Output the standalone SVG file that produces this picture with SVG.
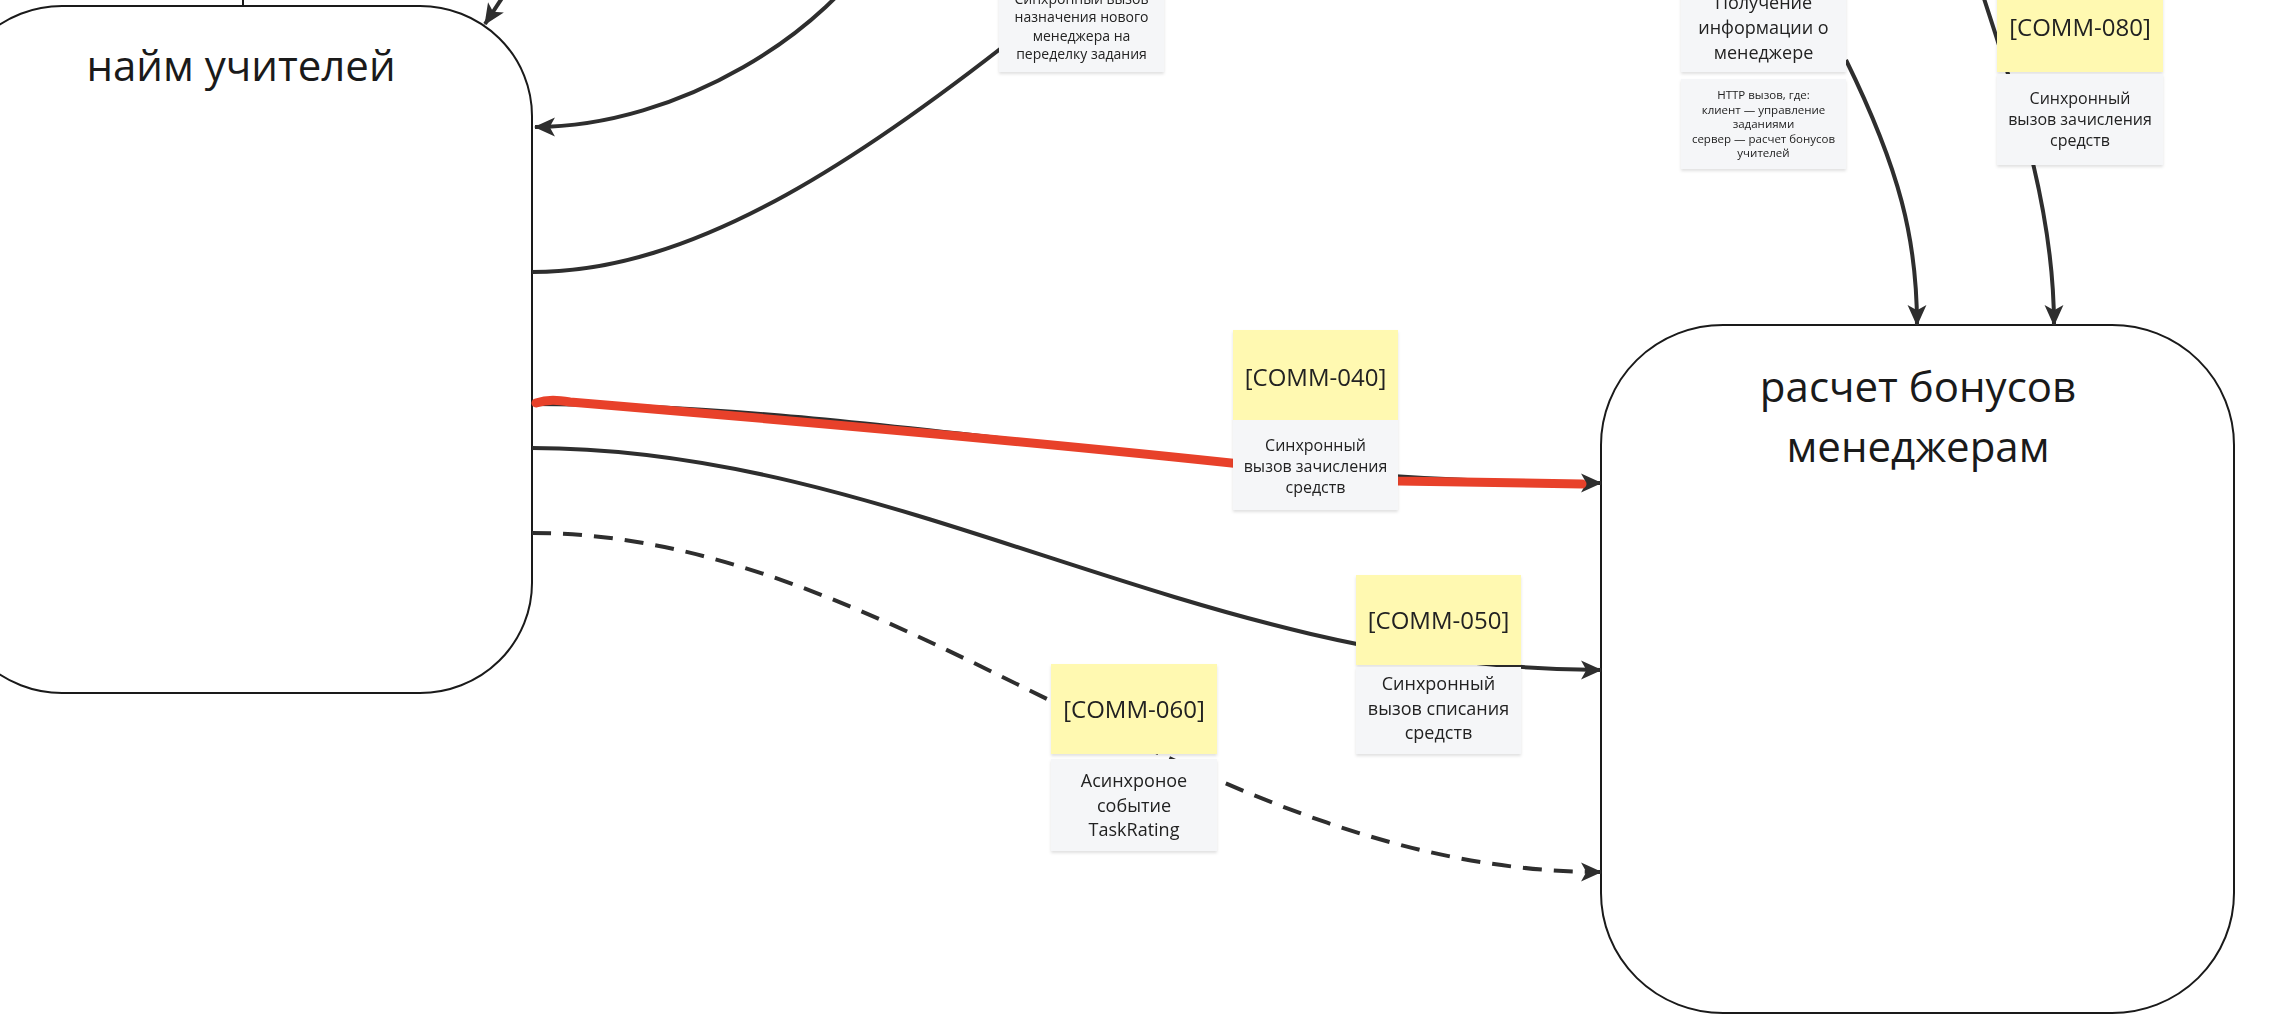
<svg xmlns="http://www.w3.org/2000/svg" width="2286" height="1030" viewBox="0 0 2286 1030">
<style>
.node{fill:#ffffff;stroke:#1a1a1a;stroke-width:2}
.ntext{font-family:"Open Sans","Noto Sans","DejaVu Sans",sans-serif;font-size:42px;fill:#1a1a1a;text-anchor:middle}
.conn{fill:none;stroke:#2e2e2e;stroke-width:4}
.dash{stroke-dasharray:19 12}
.red{fill:none;stroke:#e8412a;stroke-width:9;stroke-linecap:round;stroke-linejoin:round}
.gray{fill:#f5f6f8}
.yellow{fill:#fff9b1}
.st{font-family:"Open Sans","Noto Sans","DejaVu Sans",sans-serif;fill:#222222;text-anchor:middle}
.code{font-size:24px}
</style>
<defs>
<marker id="arr" markerUnits="userSpaceOnUse" markerWidth="21" markerHeight="21" viewBox="0 0 20 20" refX="19" refY="10" orient="auto">
<path d="M0,1 L20,10 L0,19 L5,10 z" fill="#2e2e2e"/>
</marker>
<filter id="sh" x="-10%" y="-10%" width="120%" height="130%">
<feDropShadow dx="0" dy="2" stdDeviation="1.5" flood-color="#000000" flood-opacity="0.12"/>
</filter>
</defs>
<rect x="0" y="0" width="2286" height="1030" fill="#ffffff"/>

<g id="node-hiring">
<rect class="node" x="-50" y="6" width="582" height="687" rx="112" ry="110"/>
<text class="ntext" x="241" y="81">найм учителей</text>
</g>

<g id="node-bonus">
<rect class="node" x="1601" y="325" width="633" height="688" rx="122" ry="120"/>
<text class="ntext" x="1918" y="402">расчет бонусов</text>
<text class="ntext" x="1918" y="462">менеджерам</text>
</g>

<g id="connectors">
<line x1="243" y1="-2" x2="243" y2="6" stroke="#1a1a1a" stroke-width="2"/>
<path class="conn" d="M506,-8 L485,24" marker-end="url(#arr)"/>
<path class="conn" d="M880,-60 C830,30 680,127 535,127" marker-end="url(#arr)"/>
<path class="conn" d="M532,272 C690,272 860,170 1110,-40"/>
<path class="conn" d="M532,404 C880,404 1200,483 1601,483" marker-end="url(#arr)"/>
<path class="red" d="M536,403 C548,399 558,400 570,402 Q1000,438 1250,465 L1398,481 L1582,484"/>
<path class="conn" d="M532,448 C900,448 1200,670 1601,670" marker-end="url(#arr)"/>
<path class="conn dash" d="M532,533 C900,533 1200,872 1601,872" marker-end="url(#arr)"/>
<path class="conn" d="M1846,60 C1900,170 1917,240 1917,325" marker-end="url(#arr)"/>
<path class="conn" d="M1978,-20 C2010,80 2054,200 2054,325" marker-end="url(#arr)"/>
</g>

<g id="label-reassign" filter="url(#sh)">
<rect class="gray" x="999" y="-18" width="165" height="90"/>
<text class="st" font-size="14" x="1081.5" y="3.5">Синхронный вызов</text>
<text class="st" font-size="14" x="1081.5" y="22">назначения нового</text>
<text class="st" font-size="14" x="1081.5" y="40.5">менеджера на</text>
<text class="st" font-size="14" x="1081.5" y="59">переделку задания</text>
</g>

<g id="label-getinfo" filter="url(#sh)">
<rect class="gray" x="1681" y="-18" width="165" height="90"/>
<text class="st" font-size="18" x="1763.5" y="8.5">Получение</text>
<text class="st" font-size="18" x="1763.5" y="33.5">информации о</text>
<text class="st" font-size="18" x="1763.5" y="58.5">менеджере</text>
</g>

<g id="label-http" filter="url(#sh)">
<rect class="gray" x="1681" y="79" width="165" height="90"/>
<text class="st" font-size="11.5" x="1763.5" y="99">HTTP вызов, где:</text>
<text class="st" font-size="11.5" x="1763.5" y="113.5">клиент — управление</text>
<text class="st" font-size="11.5" x="1763.5" y="128">заданиями</text>
<text class="st" font-size="11.5" x="1763.5" y="142.5">сервер — расчет бонусов</text>
<text class="st" font-size="11.5" x="1763.5" y="157">учителей</text>
</g>

<g id="label-comm080" filter="url(#sh)">
<rect class="yellow" x="1997" y="-18" width="166" height="90"/>
<text class="st code" x="2080" y="36">[COMM-080]</text>
<rect class="gray" x="1997" y="74" width="166" height="91"/>
<text class="st" font-size="16" x="2080" y="104">Синхронный</text>
<text class="st" font-size="16" x="2080" y="125">вызов зачисления</text>
<text class="st" font-size="16" x="2080" y="146">средств</text>
</g>

<g id="label-comm040" filter="url(#sh)">
<rect class="yellow" x="1233" y="330" width="165" height="90"/>
<text class="st code" x="1315.5" y="386">[COMM-040]</text>
<rect class="gray" x="1233" y="420" width="165" height="90"/>
<text class="st" font-size="16" x="1315.5" y="451">Синхронный</text>
<text class="st" font-size="16" x="1315.5" y="472">вызов зачисления</text>
<text class="st" font-size="16" x="1315.5" y="493">средств</text>
</g>

<g id="label-comm050" filter="url(#sh)">
<rect class="yellow" x="1356" y="575" width="165" height="90"/>
<text class="st code" x="1438.5" y="629">[COMM-050]</text>
<rect class="gray" x="1356" y="667" width="165" height="87"/>
<text class="st" font-size="18" x="1438.5" y="690">Синхронный</text>
<text class="st" font-size="18" x="1438.5" y="714.5">вызов списания</text>
<text class="st" font-size="18" x="1438.5" y="739">средств</text>
</g>

<g id="label-comm060" filter="url(#sh)">
<rect class="yellow" x="1051" y="664" width="166" height="90"/>
<text class="st code" x="1134" y="718">[COMM-060]</text>
<rect class="gray" x="1051" y="759" width="166" height="92"/>
<text class="st" font-size="18" x="1134" y="787">Асинхроное</text>
<text class="st" font-size="18" x="1134" y="811.5">событие</text>
<text class="st" font-size="18" x="1134" y="836">TaskRating</text>
</g>
</svg>
